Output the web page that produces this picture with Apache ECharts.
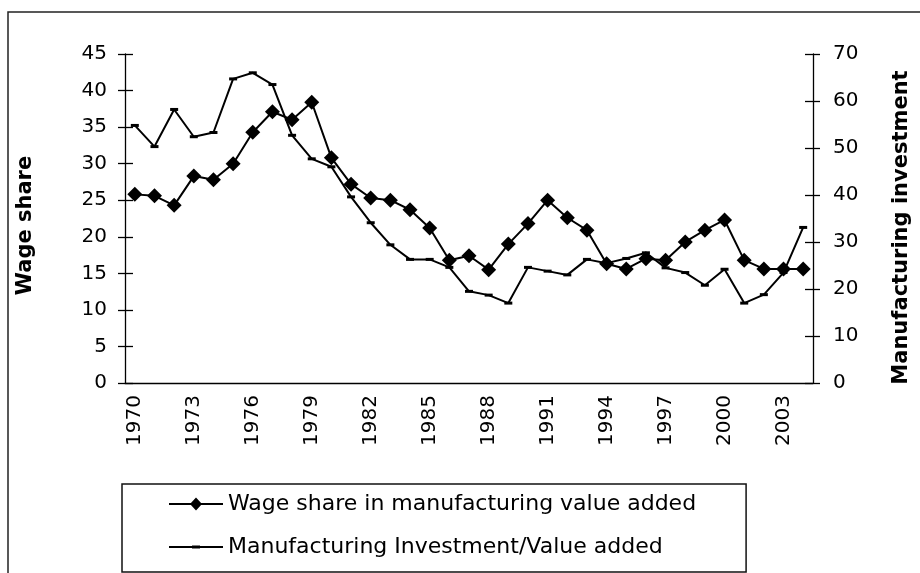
<!DOCTYPE html>
<html>
<head>
<meta charset="utf-8">
<script src="https://cdn.jsdelivr.net/npm/echarts@6/dist/echarts.min.js"></script>
<style>
  html, body { margin: 0; padding: 0; background: #fff; }
  #chart { width: 920px; height: 573px; }
</style>
</head>
<body>
<div id="chart"></div>
<script>
// years on the category axis
const years = [];
for (let y = 1970; y <= 2004; y++) years.push(String(y));

// wage share in manufacturing value added (left axis, %)
const wageShare = [
  25.8, 25.6, 24.3, 28.3, 27.8, 30.0, 34.3, 37.1, 36.0, 38.4,
  30.8, 27.2, 25.3, 25.0, 23.7, 21.2, 16.8, 17.4, 15.5, 19.0,
  21.8, 25.0, 22.6, 20.9, 16.3, 15.6, 17.0, 16.8, 19.3, 20.9,
  22.3, 16.8, 15.6, 15.6, 15.6
];

// manufacturing investment / value added (right axis, %)
const investment = [
  54.8, 50.3, 58.2, 52.4, 53.3, 64.7, 66.0, 63.5, 52.7, 47.7,
  46.0, 39.6, 34.1, 29.4, 26.3, 26.3, 24.6, 19.5, 18.7, 17.0,
  24.6, 23.8, 23.0, 26.3, 25.5, 26.5, 27.7, 24.5, 23.5, 20.8,
  24.2, 17.0, 18.8, 23.5, 33.1
];

const seriesNames = [
  "Wage share in manufacturing value added",
  "Manufacturing Investment/Value added"
];

const font = "DejaVu Sans, sans-serif";
const black = "#000";

const chart = echarts.init(document.getElementById("chart"));

// axes drawn twice: once with outward ticks and labels, once with inward ticks only (crossing ticks)
const yLeft = {
  type: "value", position: "left", min: 0, max: 45, interval: 5,
  splitLine: { show: false }
};
const yRight = {
  type: "value", position: "right", min: 0, max: 70, interval: 10,
  splitLine: { show: false }
};
const tickStyle = { color: black, width: 1.3 };
const nameStyle = { fontSize: 21, fontWeight: "bold", color: black, fontFamily: font };

chart.setOption({
  animation: false,
  backgroundColor: "#fff",
  textStyle: { fontFamily: font, color: black },
  graphic: [{
    type: "rect",
    shape: { x: 8, y: 12, width: 1000, height: 700 },
    style: { fill: "none", stroke: "#222", lineWidth: 1.5 },
    silent: true
  }],
  grid: { left: 125, right: 104, top: 54, bottom: 190 },
  legend: {
    orient: "vertical",
    left: 122, top: 484,
    padding: [9, 50, 14, 47],
    itemGap: 21,
    itemWidth: 54, itemHeight: 13,
    borderColor: "#111", borderWidth: 1.5,
    textStyle: { fontFamily: font, fontSize: 22, color: black },
    data: [{
      name: seriesNames[0],
      icon: "path://M0,5.5H54V7.5H0Z M27,0L33,6.5L27,13L21,6.5Z"
    }, {
      name: seriesNames[1],
      icon: "path://M0,0L0.01,0Z M54,13L53.99,13Z M0,5.5H54V7.5H0Z M23,5H31V8H23Z"
    }]
  },
  xAxis: [{
    type: "category", data: years, boundaryGap: true,
    axisLine: { lineStyle: tickStyle },
    axisTick: { interval: 0, length: 8, lineStyle: tickStyle },
    axisLabel: { interval: 2, rotate: 90, fontSize: 20, margin: 12, color: black, fontFamily: font }
  }, {
    type: "category", data: years, boundaryGap: true, position: "bottom",
    axisLine: { show: false },
    axisTick: { inside: true, interval: 0, length: 8, lineStyle: tickStyle },
    axisLabel: { show: false }
  }],
  yAxis: [
    Object.assign({}, yLeft, {
      name: "Wage share", nameLocation: "middle", nameRotate: 90, nameGap: 89,
      nameTextStyle: Object.assign({ padding: [0, 14, 0, 0] }, nameStyle),
      axisLine: { show: true, lineStyle: tickStyle },
      axisTick: { show: true, length: 7, lineStyle: tickStyle },
      axisLabel: { fontSize: 20, margin: 18, color: black, fontFamily: font }
    }),
    Object.assign({}, yRight, {
      name: "Manufacturing investment", nameLocation: "middle", nameRotate: 90, nameGap: 78,
      nameTextStyle: Object.assign({ padding: [0, 18, 0, 0] }, nameStyle),
      axisLine: { show: true, lineStyle: tickStyle },
      axisTick: { show: true, length: 7, lineStyle: tickStyle },
      axisLabel: { fontSize: 20, margin: 20, color: black, fontFamily: font }
    }),
    Object.assign({}, yLeft, {
      axisLine: { show: false },
      axisTick: { show: true, inside: true, length: 8, lineStyle: tickStyle },
      axisLabel: { show: false }
    }),
    Object.assign({}, yRight, {
      axisLine: { show: false },
      axisTick: { show: true, inside: true, length: 8, lineStyle: tickStyle },
      axisLabel: { show: false }
    })
  ],
  series: [{
    name: seriesNames[0],
    type: "line",
    xAxisIndex: 0, yAxisIndex: 0,
    data: wageShare,
    showAllSymbol: true,
    symbol: "diamond", symbolSize: 15,
    lineStyle: { color: black, width: 2 },
    itemStyle: { color: black },
    z: 3
  }, {
    name: seriesNames[1],
    type: "line",
    xAxisIndex: 0, yAxisIndex: 1,
    data: investment,
    showAllSymbol: true,
    symbol: "rect", symbolSize: [8, 3],
    lineStyle: { color: black, width: 2 },
    itemStyle: { color: black },
    z: 2
  }]
});
</script>
</body>
</html>
